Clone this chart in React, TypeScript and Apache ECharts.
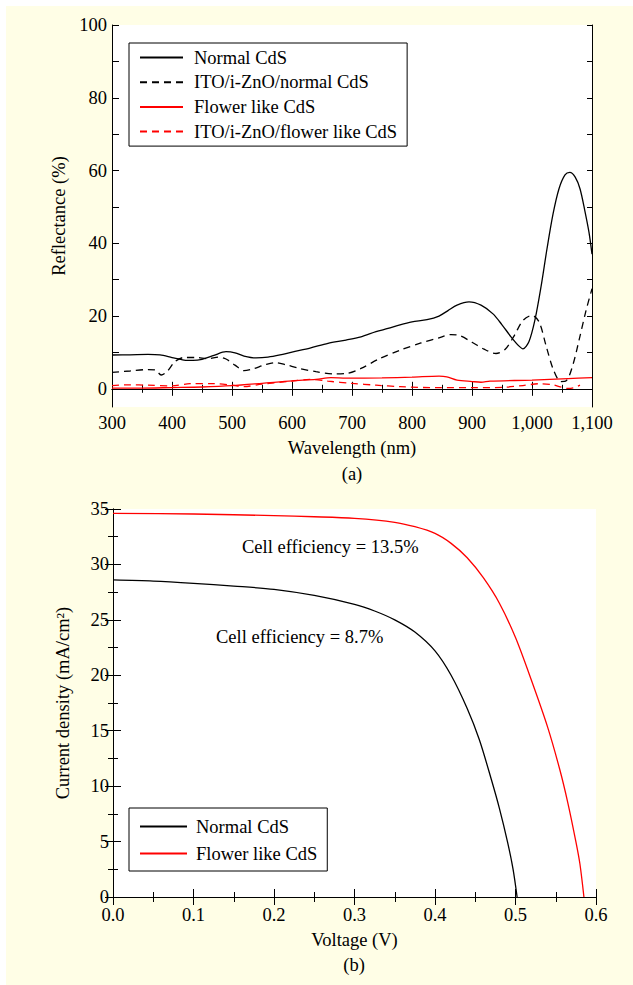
import React, { useEffect, useRef } from 'react';
import * as echarts from 'echarts';

// ---------- Panel (a): reflectance ----------
const wlNormal = [300, 330, 360, 380, 400, 420, 435, 450, 470, 490, 505, 520, 540, 560, 580, 600, 630, 660, 690, 715, 740, 760, 780, 800, 825, 845, 860, 875, 895, 915, 935, 950, 965, 978, 985, 995, 1005, 1015, 1025, 1035, 1045, 1055, 1063, 1072, 1080, 1088, 1095, 1100];
const rNormal = [9.3, 9.35, 9.45, 9.3, 8.6, 7.9, 7.8, 8.1, 9.2, 10.2, 9.9, 9.0, 8.5, 8.7, 9.3, 10.1, 11.2, 12.5, 13.4, 14.3, 15.7, 16.6, 17.6, 18.4, 19.0, 20.0, 21.5, 23.0, 23.9, 23.0, 20.6, 17.6, 14.3, 11.8, 11.0, 13.0, 19.0, 28.0, 38.5, 48.0, 55.0, 58.8, 59.5, 58.2, 55.0, 49.0, 43.0, 37.0];

const wlItoNormal = [300, 330, 360, 372, 382, 392, 405, 420, 440, 460, 478, 490, 505, 520, 535, 555, 572, 590, 610, 640, 670, 690, 715, 745, 780, 815, 845, 865, 880, 900, 920, 940, 955, 970, 985, 1000, 1012, 1024, 1036, 1048, 1057, 1068, 1080, 1090, 1100];
const rItoNormal = [4.5, 4.9, 5.3, 5.2, 3.8, 4.8, 7.5, 8.6, 8.6, 8.3, 8.7, 8.2, 6.5, 5.0, 5.5, 6.6, 7.2, 6.6, 5.7, 4.7, 4.1, 4.2, 5.6, 8.2, 10.6, 12.6, 14.0, 14.9, 14.6, 12.8, 10.9, 9.7, 10.8, 14.5, 18.8, 20.2, 18.3, 11.5, 5.1, 2.0, 2.2, 6.5, 14.5, 21.5, 27.5];

const wlFlower = [300, 350, 400, 450, 500, 550, 600, 640, 665, 690, 750, 800, 845, 858, 875, 900, 915, 930, 1000, 1060, 1100];
const rFlower = [0.2, 0.2, 0.35, 0.5, 0.85, 1.5, 2.2, 2.6, 3.1, 2.95, 3.0, 3.2, 3.5, 3.3, 2.4, 2.0, 1.8, 2.1, 2.4, 2.8, 3.1];

const wlItoFlower = [300, 330, 360, 400, 430, 470, 500, 520, 550, 600, 630, 660, 700, 740, 780, 840, 900, 950, 985, 1012, 1035, 1050, 1060, 1070, 1080];
const rItoFlower = [0.9, 1.1, 1.0, 0.8, 1.4, 1.4, 1.0, 0.6, 1.3, 2.1, 2.6, 2.1, 1.5, 1.0, 0.6, 0.3, 0.3, 0.4, 0.9, 1.4, 1.1, 0.4, 0.1, 0.3, 1.0];

const reflLabelTicks = [0, 20, 40, 60, 80, 100];
const reflTicks = [0, 10, 20, 30, 40, 50, 60, 70, 80, 90, 100];

// ---------- Panel (b): J-V ----------
const vNormal = [0, 0.05, 0.1, 0.15, 0.2, 0.25, 0.3, 0.325, 0.35, 0.375, 0.4, 0.42, 0.44, 0.455, 0.47, 0.48, 0.49, 0.497, 0.502];
const jNormal = [28.6, 28.5, 28.3, 28.05, 27.75, 27.2, 26.4, 25.8, 25.0, 23.9, 22.2, 20.0, 17.0, 14.2, 10.6, 8.0, 5.0, 2.5, 0];

const vFlower = [0, 0.1, 0.2, 0.25, 0.3, 0.35, 0.375, 0.4, 0.42, 0.44, 0.46, 0.48, 0.5, 0.52, 0.54, 0.555, 0.565, 0.575, 0.58, 0.585];
const jFlower = [34.6, 34.55, 34.4, 34.3, 34.15, 33.8, 33.4, 32.8, 31.9, 30.6, 28.8, 26.5, 23.4, 19.5, 15.3, 11.5, 8.5, 5.0, 3.0, 0];

const effFlower = 'Cell efficiency = 13.5%';
const effNormal = 'Cell efficiency = 8.7%';

const zip = (xs: number[], ys: number[]) => xs.map((x, i) => [x, ys[i]]);

const FONT = 'Liberation Serif, Times New Roman, serif';
const FS = 18.5;
const BG = '#FFFEE6';
const O = 6; // offset of yellow panel in page

export default function App() {
  const ref = useRef<HTMLDivElement>(null);
  useEffect(() => {
    if (!ref.current) return;
    const chart = echarts.init(ref.current, undefined, { renderer: 'svg' });
    const txt = { color: '#000', fontFamily: FONT, fontSize: FS };
    const axLine = { show: true, lineStyle: { color: '#000', width: 1 } };
    const tick = (extra: any = {}) => ({ show: true, inside: true, length: 7, lineStyle: { color: '#000', width: 1 }, ...extra });
    const minor = { show: true, splitNumber: 2, length: 4, lineStyle: { color: '#000', width: 1 } };
    const fmtWl = (v: number) => (v >= 1000 ? Math.floor(v / 1000) + ',' + String(v % 1000).padStart(3, '0') : String(v));

    const black = { color: '#000', width: 1.3 };
    const red = { color: '#ff0000', width: 1.3 };
    const dash = [7, 5];

    const option: any = {
      animation: false,
      backgroundColor: 'transparent',
      textStyle: { fontFamily: FONT },
      grid: [
        { left: 112 - O, top: 25 - O, width: 480, height: 382, show: true, backgroundColor: '#fff', borderWidth: 0 },
        { left: 113 - O, top: 509 - O, width: 483, height: 388, show: true, backgroundColor: '#fff', borderWidth: 0 },
      ],
      xAxis: [
        {
          gridIndex: 0, type: 'value', min: 300, max: 1100, interval: 100, position: 'bottom',
          axisLine: axLine, axisTick: tick(), minorTick: minor, splitLine: { show: false },
          axisLabel: { ...txt, margin: 6, formatter: fmtWl },
          name: 'Wavelength (nm)', nameLocation: 'middle', nameGap: 31, nameTextStyle: txt,
        },
        {
          gridIndex: 0, type: 'value', min: 300, max: 1100, interval: 100, position: 'top',
          axisLine: axLine, axisTick: tick(), minorTick: minor, splitLine: { show: false }, axisLabel: { show: false },
        },
        {
          gridIndex: 1, type: 'value', min: 0, max: 0.6, interval: 0.1, position: 'bottom',
          axisLine: axLine, axisTick: tick({ length: 8 }), minorTick: { ...minor, length: 5 }, splitLine: { show: false },
          axisLabel: { ...txt, margin: 8, formatter: (v: number) => v.toFixed(1) },
          name: 'Voltage (V)', nameLocation: 'middle', nameGap: 33, nameTextStyle: txt,
        },
        {
          gridIndex: 1, type: 'value', min: 0, max: 0.6, interval: 0.1, position: 'top',
          axisLine: axLine, axisTick: tick({ length: 8 }), minorTick: { ...minor, length: 5 }, splitLine: { show: false }, axisLabel: { show: false },
        },
      ],
      yAxis: [
        {
          gridIndex: 0, type: 'value', min: -5, max: 100, position: 'left',
          axisLine: axLine, axisTick: tick({ customValues: reflTicks }), splitLine: { show: false },
          axisLabel: { ...txt, margin: 5, customValues: reflLabelTicks },
          name: 'Reflectance (%)', nameLocation: 'middle', nameGap: 41, nameTextStyle: txt,
        },
        {
          gridIndex: 0, type: 'value', min: -5, max: 100, position: 'right',
          axisLine: axLine, axisTick: tick({ customValues: reflTicks, length: 5 }), splitLine: { show: false },
          axisLabel: { show: false, customValues: reflLabelTicks },
        },
        {
          gridIndex: 1, type: 'value', min: 0, max: 35, interval: 5, position: 'left',
          axisLine: axLine, axisTick: tick({ length: 8 }), minorTick: { ...minor, length: 5 }, splitLine: { show: false },
          axisLabel: { ...txt, margin: 4 },
          name: 'Current density (mA/cm²)', nameLocation: 'middle', nameGap: 41, nameTextStyle: txt,
        },
        {
          gridIndex: 1, type: 'value', min: 0, max: 35, interval: 5, position: 'right',
          axisLine: axLine, axisTick: tick({ length: 8 }), minorTick: { ...minor, length: 5 }, splitLine: { show: false }, axisLabel: { show: false },
        },
      ],
      legend: [
        {
          orient: 'vertical', left: 129 - O, top: 43 - O, padding: [5, 10, 5, 10], itemGap: 5.7,
          itemWidth: 43, itemHeight: 14, borderColor: '#000', borderWidth: 1, backgroundColor: '#fff',
          itemStyle: { opacity: 0 },
          textStyle: { ...txt, lineHeight: 18, padding: [0, 0, 0, 6] },
          data: ['Normal CdS', 'ITO/i-ZnO/normal CdS', 'Flower like CdS', 'ITO/i-ZnO/flower like CdS'],
        },
        {
          orient: 'vertical', left: 129 - O, top: 808 - O, padding: [9, 10, 8, 10], itemGap: 8,
          itemWidth: 47, itemHeight: 14, borderColor: '#000', borderWidth: 1, backgroundColor: '#fff',
          itemStyle: { opacity: 0 },
          textStyle: { ...txt, lineHeight: 18, padding: [0, 0, 0, 4] },
          data: ['Normal CdS', 'Flower like CdS'],
        },
      ],
      series: [
        { name: 'Normal CdS', type: 'line', xAxisIndex: 0, yAxisIndex: 0, data: zip(wlNormal, rNormal), symbol: 'none', smooth: 0.3, lineStyle: black, itemStyle: { color: '#000' } },
        { name: 'ITO/i-ZnO/normal CdS', type: 'line', xAxisIndex: 0, yAxisIndex: 0, data: zip(wlItoNormal, rItoNormal), symbol: 'none', smooth: 0.3, lineStyle: { ...black, type: dash }, itemStyle: { color: '#000' } },
        { name: 'Flower like CdS', type: 'line', xAxisIndex: 0, yAxisIndex: 0, data: zip(wlFlower, rFlower), symbol: 'none', smooth: 0.3, lineStyle: red, itemStyle: { color: '#ff0000' } },
        { name: 'ITO/i-ZnO/flower like CdS', type: 'line', xAxisIndex: 0, yAxisIndex: 0, data: zip(wlItoFlower, rItoFlower), symbol: 'none', smooth: 0.3, lineStyle: { ...red, type: dash }, itemStyle: { color: '#ff0000' } },
        { name: 'Normal CdS', type: 'line', xAxisIndex: 2, yAxisIndex: 2, data: zip(vNormal, jNormal), symbol: 'none', smooth: 0.3, lineStyle: black, itemStyle: { color: '#000' } },
        { name: 'Flower like CdS', type: 'line', xAxisIndex: 2, yAxisIndex: 2, data: zip(vFlower, jFlower), symbol: 'none', smooth: 0.3, lineStyle: red, itemStyle: { color: '#ff0000' } },
      ],
      graphic: [
        { type: 'text', x: 352 - O, y: 474 - O, style: { text: '(a)', font: `${FS}px ${FONT}`, fill: '#000', textAlign: 'center', textVerticalAlign: 'middle' } },
        { type: 'text', x: 354 - O, y: 965 - O, style: { text: '(b)', font: `${FS}px ${FONT}`, fill: '#000', textAlign: 'center', textVerticalAlign: 'middle' } },
        { type: 'text', x: 242 - O, y: 547 - O, style: { text: effFlower, font: `${FS}px ${FONT}`, fill: '#000', textAlign: 'left', textVerticalAlign: 'middle' } },
        { type: 'text', x: 216 - O, y: 637 - O, style: { text: effNormal, font: `${FS}px ${FONT}`, fill: '#000', textAlign: 'left', textVerticalAlign: 'middle' } },
      ],
    };
    chart.setOption(option);
    return () => chart.dispose();
  }, []);

  return (
    <div style={{ position: 'absolute', left: 0, top: 0, width: 633, height: 985, background: '#fff', overflow: 'hidden' }}>
      <div ref={ref} style={{ position: 'absolute', left: O, top: O, width: 633 - O, height: 985 - O, background: BG }} />
    </div>
  );
}
